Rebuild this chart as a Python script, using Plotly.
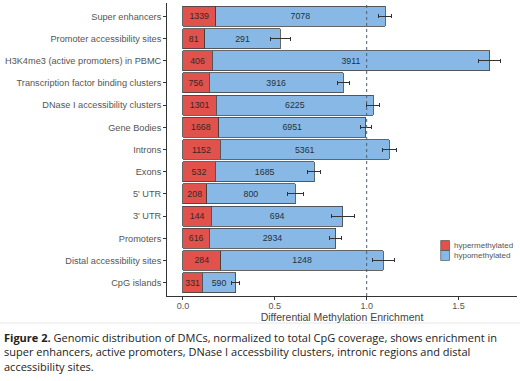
import plotly.graph_objects as go

categories = ["Super enhancers", "Promoter accessibility sites", "H3K4me3 (active promoters) in PBMC",
              "Transcription factor binding clusters", "DNase I accessibility clusters", "Gene Bodies",
              "Introns", "Exons", "5' UTR", "3' UTR", "Promoters", "Distal accessibility sites", "CpG islands"]
hyper_counts = [1339, 81, 406, 756, 1301, 1668, 1152, 532, 208, 144, 616, 284, 331]
hypo_counts = [7078, 291, 3911, 3916, 6225, 6951, 5361, 1685, 800, 694, 2934, 1248, 590]
hyper_enrich = [0.178, 0.118, 0.160, 0.142, 0.182, 0.195, 0.202, 0.175, 0.129, 0.155, 0.144, 0.206, 0.106]
hypo_enrich = [0.922, 0.413, 1.509, 0.731, 0.854, 0.800, 0.922, 0.540, 0.482, 0.716, 0.687, 0.885, 0.181]
total_err = [0.033, 0.057, 0.061, 0.032, 0.035, 0.030, 0.036, 0.035, 0.043, 0.062, 0.032, 0.061, 0.021]
x_ticks = [0.0, 0.5, 1.0, 1.5]
x_ticklabels = ["0.0", "0.5", "1.0", "1.5"]
caption_lines = [
    "<b>Figure 2.</b> Genomic distribution of DMCs, normalized to total CpG coverage, shows enrichment in",
    "super enhancers, active promoters, DNase I accessbility clusters, intronic regions and distal",
    "accessibility sites.",
]

W, H = 520, 381
L, R, T, B = 167, 3, 3, 85
PW, PH = W - L - R, H - T - B

def px(xp):
    return (xp - L) / PW

def py(yp):
    return (T + PH - yp) / PH

RED = "#E0524B"
BLUE = "#88B9E6"
EDGE = "#3f3f3f"
FONT = "Liberation Sans"
CAP = "Open Sans"

fig = go.Figure()
fig.add_trace(go.Bar(
    y=categories, x=hyper_enrich, orientation="h", name="hypermethylated",
    marker=dict(color=RED, line=dict(color=EDGE, width=0.8)),
    text=hyper_counts, textposition="inside", insidetextanchor="middle",
    textangle=0, constraintext="none",
    textfont=dict(family=FONT, size=8.8, color="#3a2626"), width=0.9,
    showlegend=False,
))
fig.add_trace(go.Bar(
    y=categories, x=hypo_enrich, orientation="h", name="hypomethylated",
    marker=dict(color=BLUE, line=dict(color=EDGE, width=0.8)),
    text=hypo_counts, textposition="inside", insidetextanchor="middle",
    textangle=0, constraintext="none",
    textfont=dict(family=FONT, size=8.8, color="#26303a"), width=0.9,
    error_x=dict(type="data", array=total_err, color="#333333", thickness=1, width=2),
    showlegend=False,
))

annotations = [
    dict(xref="paper", yref="paper", x=px(451.5), y=py(245.5), xanchor="left", yanchor="middle",
         text="hypermethylated", showarrow=False, font=dict(size=8, color="#555555")),
    dict(xref="paper", yref="paper", x=px(451.5), y=py(255.5), xanchor="left", yanchor="middle",
         text="hypomethylated", showarrow=False, font=dict(size=8, color="#555555")),
    dict(xref="paper", yref="paper", x=px(2), y=py(352), xanchor="left", yanchor="middle",
         align="left", text="<br>".join(caption_lines), showarrow=False,
         font=dict(family=CAP, size=11, color="#222222")),
]

fig.update_layout(
    width=W, height=H, margin=dict(l=L, r=R, t=T, b=B),
    barmode="stack", paper_bgcolor="white", plot_bgcolor="white",
    font=dict(family=FONT, size=9, color="#555555"),
    uniformtext=dict(minsize=8, mode="show"),
    xaxis=dict(range=[-0.0866, 1.818], tickvals=x_ticks, ticktext=x_ticklabels,
               showgrid=False, zeroline=False, showline=True, linecolor="#333333", linewidth=0.8,
               ticks="outside", ticklen=3, tickcolor="#333333", tickwidth=0.8,
               ticklabelstandoff=-2,
               tickfont=dict(size=9, color="#555555"),
               title=dict(text="Differential Methylation Enrichment", standoff=1,
                          font=dict(size=10.5, color="#444444"))),
    yaxis=dict(categoryorder="array", categoryarray=categories[::-1], range=[-0.6, 12.6],
               showgrid=False, zeroline=False, showline=True, linecolor="#333333", linewidth=0.8,
               ticks="outside", ticklen=3, tickcolor="#333333", tickwidth=0.8,
               tickfont=dict(size=9.2, color="#555555")),
    shapes=[
        dict(type="line", xref="x", yref="paper", x0=1.0, x1=1.0, y0=0, y1=1,
             line=dict(color="#4f5d6e", width=1, dash="3px,3px")),
        dict(type="rect", xref="paper", yref="paper", x0=px(440.7), x1=px(449.5),
             y0=py(250.5), y1=py(240.5), fillcolor=RED, line=dict(color=EDGE, width=0.6)),
        dict(type="rect", xref="paper", yref="paper", x0=px(440.7), x1=px(449.5),
             y0=py(260.5), y1=py(250.5), fillcolor=BLUE, line=dict(color=EDGE, width=0.6)),
        dict(type="line", xref="paper", yref="paper", x0=px(0), x1=px(520), y0=py(323), y1=py(323),
             line=dict(color="#e6e6e6", width=1)),
    ],
    annotations=annotations,
)

fig.write_html("out.html", config={"displayModeBar": False},
               post_script="document.body.style.margin='0';")
